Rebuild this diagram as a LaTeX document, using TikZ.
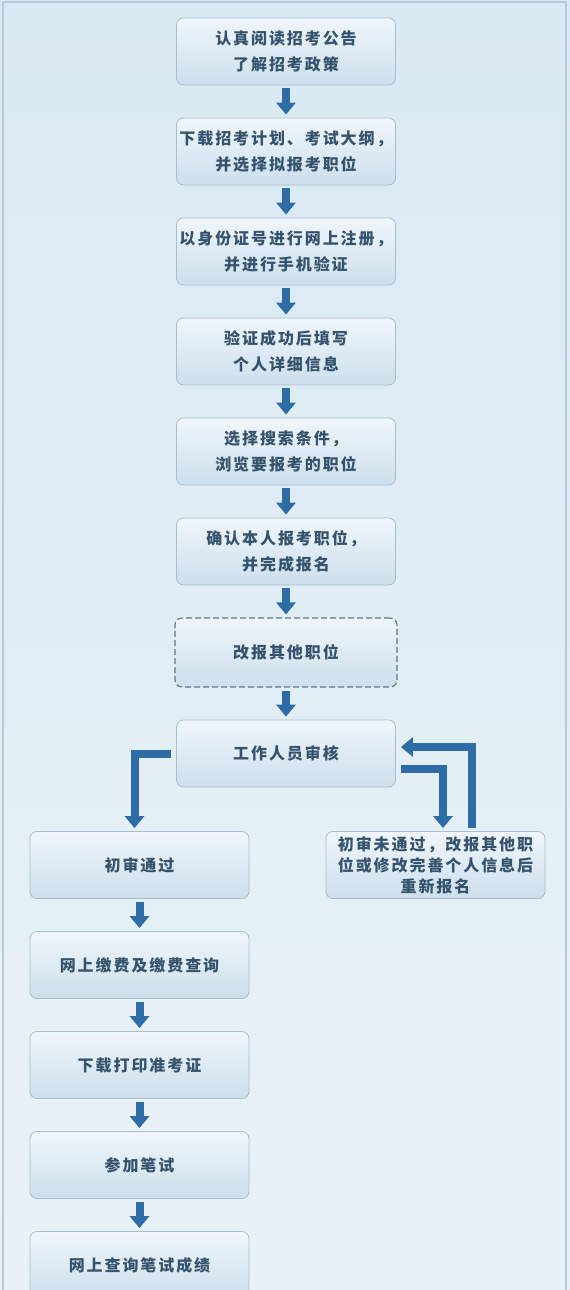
\documentclass[tikz,border=0pt]{standalone}
\usepackage{fontspec}
\newfontfamily\cjk[LetterSpace=12]{Noto Sans CJK SC}
\usetikzlibrary{arrows.meta}

\definecolor{flowblue}{HTML}{2E6CA6}
\definecolor{boxtop}{HTML}{F0F6FB}
\definecolor{boxbottom}{HTML}{CCDFEC}
\definecolor{boxline}{HTML}{A8BDCD}
\definecolor{boxtext}{HTML}{36536D}
\definecolor{papertop}{HTML}{D9E9F3}
\definecolor{paperbottom}{HTML}{EAF2F7}

\tikzset{
    stepbox/.style={rounded corners=7pt, draw=boxline, line width=0.8pt,
        top color=boxtop, bottom color=boxbottom,
        minimum width=219pt, minimum height=67pt, inner sep=1pt,
        align=center, text=boxtext,
        font=\cjk\bfseries\fontsize{16}{26}\selectfont},
    optbox/.style={stepbox, draw=boxtext!80, dashed, line width=1.1pt,
        dash pattern=on 6pt off 3pt, minimum width=222pt, minimum height=69pt},
    notebox/.style={stepbox, font=\cjk\bfseries\fontsize{16}{21}\selectfont},
    flow/.style={draw=flowblue, line width=8pt, line join=miter,
        -{Triangle[width=19pt,length=12pt]}, shorten <=3pt, shorten >=3pt}
}

\begin{document}
\begin{tikzpicture}[x=1pt,y=-1pt]
\useasboundingbox (0,0) rectangle (570,1290);
\clip (0,0) rectangle (570,1290);

%% Background
\shade[top color=papertop, bottom color=paperbottom]
    (0,0) rectangle (570,1290);
\draw[boxline!80, line width=1.5pt] (3,2) rectangle (566,1300);

%% Main column
\node[stepbox] (read)   at (286,51.5)  {认真阅读招考公告\\了解招考政策};
\node[stepbox] (plan)   at (286,151.5) {下载招考计划、考试大纲，\\并选择拟报考职位};
\node[stepbox] (signup) at (286,251.5) {以身份证号进行网上注册，\\并进行手机验证};
\node[stepbox] (info)   at (286,351.5) {验证成功后填写\\个人详细信息};
\node[stepbox] (search) at (286,451.5) {选择搜索条件，\\浏览要报考的职位};
\node[stepbox] (apply)  at (286,551.5) {确认本人报考职位，\\并完成报名};
\node[optbox]  (change) at (286,652.5) {改报其他职位};
\node[stepbox] (review) at (286,753.5) {工作人员审核};

%% Left column
\node[stepbox] (pass)   at (139.5,865)  {初审通过};
\node[stepbox] (pay)    at (139.5,965)  {网上缴费及缴费查询};
\node[stepbox] (ticket) at (139.5,1065) {下载打印准考证};
\node[stepbox] (exam)   at (139.5,1165) {参加笔试};
\node[stepbox] (score)  at (139.5,1265) {网上查询笔试成绩};

%% Right column
\node[notebox] (fail)   at (435.5,865)
    {初审未通过，改报其他职\\位或修改完善个人信息后\\重新报名};

%% Arrows
\foreach \from/\to in {read/plan, plan/signup, signup/info, info/search,
    search/apply, apply/change, change/review,
    pass/pay, pay/ticket, ticket/exam, exam/score}
    \draw[flow] (\from.south) -- (\to.north);

\draw[flow, shorten <=5pt] (review.west) -| ([xshift=-5pt]pass.north);
\draw[flow, shorten <=5pt] ([yshift=-15.5pt]review.east)
    -| ([xshift=7.5pt]fail.north);
\draw[flow, shorten >=5pt] ([xshift=36.5pt]fail.north)
    |- ([yshift=6.5pt]review.east);
\end{tikzpicture}
\end{document}
